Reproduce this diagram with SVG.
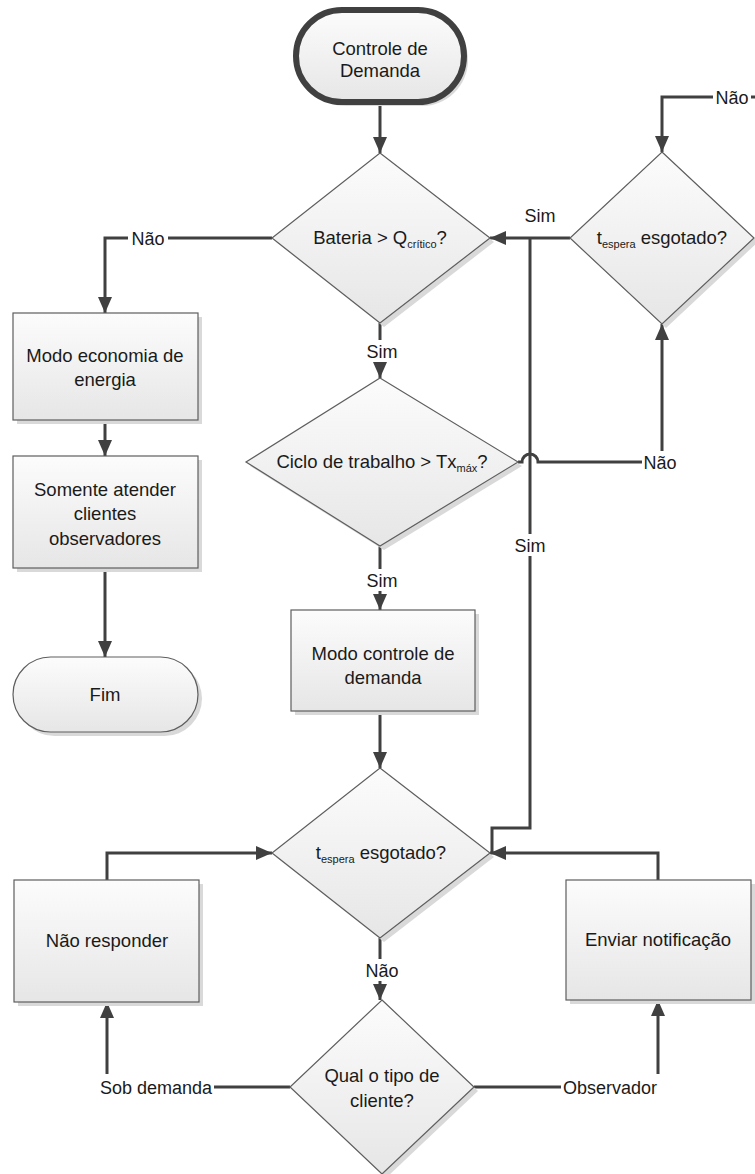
<svg xmlns="http://www.w3.org/2000/svg" width="755" height="1174" viewBox="0 0 755 1174">
<style>
.sh{fill:url(#g);stroke:#5e5e5e;stroke-width:1.2}
.sd{fill:#d9d9d9}
.c{fill:none;stroke:#404040;stroke-width:3}
.t{font-family:"Liberation Sans",Arial,sans-serif;font-size:18.5px;fill:#1a1a1a;text-anchor:middle}
.l{font-family:"Liberation Sans",Arial,sans-serif;font-size:18px;fill:#1a1a1a;text-anchor:middle}
.s{font-size:11px}
.bg{fill:#ffffff}
</style>
<defs>
<linearGradient id="g" x1="0" y1="0" x2="0" y2="1">
<stop offset="0" stop-color="#fcfcfc"/>
<stop offset="1" stop-color="#e6e6e6"/>
</linearGradient>
<marker id="a" markerUnits="userSpaceOnUse" markerWidth="16" markerHeight="14" viewBox="0 0 16 14" refX="16" refY="7" orient="auto">
<path d="M0,0 L16,7 L0,14 z" fill="#404040"/>
</marker>
</defs>

<g id="connectors">
<path class="c" d="M380,104 V153" marker-end="url(#a)"/>
<path class="c" d="M380,323 V378" marker-end="url(#a)"/>
<path class="c" d="M380,546 V610" marker-end="url(#a)"/>
<path class="c" d="M380,711 V768" marker-end="url(#a)"/>
<path class="c" d="M380,938 V1000" marker-end="url(#a)"/>
<path class="c" d="M272,238 H105 V313" marker-end="url(#a)"/>
<path class="c" d="M105,420 V456" marker-end="url(#a)"/>
<path class="c" d="M105,568 V657" marker-end="url(#a)"/>
<path class="c" d="M290,1087 H107 V1002" marker-end="url(#a)"/>
<path class="c" d="M474,1087 H658 V1000" marker-end="url(#a)"/>
<path class="c" d="M107,880 V853 H272" marker-end="url(#a)"/>
<path class="c" d="M658,880 V853 H490" marker-end="url(#a)"/>
<path class="c" d="M492,853 V828 H530 V238"/>
<path class="c" d="M570,238 H490" marker-end="url(#a)"/>
<path class="c" d="M518,462 H522 A8,8 0 0 1 538,462 H662 V324" marker-end="url(#a)"/>
<path class="c" d="M755,97 H662 V152" marker-end="url(#a)"/>
<rect class="bg" x="366" y="340" width="32" height="22"/>
<text class="l" x="382" y="358">Sim</text>
<rect class="bg" x="366" y="569" width="32" height="22"/>
<text class="l" x="382" y="587">Sim</text>
<rect class="bg" x="364" y="959" width="36" height="22"/>
<text class="l" x="382" y="977">Não</text>
<text class="l" x="540" y="222">Sim</text>
<rect class="bg" x="514" y="534" width="32" height="22"/>
<text class="l" x="530" y="552">Sim</text>
<rect class="bg" x="642" y="451" width="38" height="22"/>
<text class="l" x="660" y="469">Não</text>
<rect class="bg" x="128" y="227" width="40" height="22"/>
<text class="l" x="148" y="245">Não</text>
<rect class="bg" x="713" y="86" width="38" height="22"/>
<text class="l" x="732" y="104">Não</text>
<rect class="bg" x="98" y="1074" width="116" height="24"/>
<text class="l" x="156" y="1094">Sob demanda</text>
<rect class="bg" x="561" y="1074" width="99" height="24"/>
<text class="l" x="610" y="1094">Observador</text>
</g>

<g id="start">
<rect class="sd" x="300" y="14" width="168" height="92" rx="46"/>
<rect x="296" y="10" width="168" height="92" rx="46" fill="url(#g)" stroke="#404040" stroke-width="6"/>
<text class="t" x="380" y="55">Controle de</text>
<text class="t" x="380" y="77">Demanda</text>
</g>

<g id="d1">
<path class="sd" d="M384,157 L494,242 L384,327 L276,242 z"/>
<path class="sh" d="M380,153 L490,238 L380,323 L272,238 z"/>
<text class="t" x="380" y="244">Bateria &gt; Q<tspan class="s" dy="4">crítico</tspan><tspan dy="-4">?</tspan></text>
</g>

<g id="d2">
<path class="sd" d="M384,382 L522,466 L384,550 L250,466 z"/>
<path class="sh" d="M380,378 L518,462 L380,546 L246,462 z"/>
<text class="t" x="382" y="468">Ciclo de trabalho &gt; Tx<tspan class="s" dy="4">máx</tspan><tspan dy="-4">?</tspan></text>
</g>

<g id="box-controle">
<rect class="sd" x="295" y="614" width="184" height="101"/>
<rect class="sh" x="291" y="610" width="184" height="101"/>
<text class="t" x="383" y="660">Modo controle de</text>
<text class="t" x="383" y="684">demanda</text>
</g>

<g id="d3">
<path class="sd" d="M384,772 L494,857 L384,942 L276,857 z"/>
<path class="sh" d="M380,768 L490,853 L380,938 L272,853 z"/>
<text class="t" x="381" y="859">t<tspan class="s" dy="4">espera</tspan><tspan dy="-4"> esgotado?</tspan></text>
</g>

<g id="d4">
<path class="sd" d="M386,1004 L478,1091 L386,1178 L294,1091 z"/>
<path class="sh" d="M382,1000 L474,1087 L382,1174 L290,1087 z"/>
<text class="t" x="382" y="1082">Qual o tipo de</text>
<text class="t" x="382" y="1107">cliente?</text>
</g>

<g id="d5">
<path class="sd" d="M666,156 L758,242 L666,328 L574,242 z"/>
<path class="sh" d="M662,152 L754,238 L662,324 L570,238 z"/>
<text class="t" x="662" y="244">t<tspan class="s" dy="4">espera</tspan><tspan dy="-4"> esgotado?</tspan></text>
</g>

<g id="box-economia">
<rect class="sd" x="17" y="317" width="185" height="107"/>
<rect class="sh" x="13" y="313" width="185" height="107"/>
<text class="t" x="105" y="362">Modo economia de</text>
<text class="t" x="105" y="386">energia</text>
</g>

<g id="box-somente">
<rect class="sd" x="17" y="460" width="185" height="112"/>
<rect class="sh" x="13" y="456" width="185" height="112"/>
<text class="t" x="105" y="496">Somente atender</text>
<text class="t" x="105" y="520">clientes</text>
<text class="t" x="105" y="545">observadores</text>
</g>

<g id="fim">
<rect class="sd" x="17" y="661" width="185" height="75" rx="37.5"/>
<rect class="sh" x="13" y="657" width="185" height="75" rx="37.5"/>
<text class="t" x="105" y="701">Fim</text>
</g>

<g id="box-nao-responder">
<rect class="sd" x="18" y="884" width="185" height="122"/>
<rect class="sh" x="14" y="880" width="185" height="122"/>
<text class="t" x="107" y="947">Não responder</text>
</g>

<g id="box-enviar">
<rect class="sd" x="570" y="884" width="185" height="120"/>
<rect class="sh" x="566" y="880" width="185" height="120"/>
<text class="t" x="658" y="946">Enviar notificação</text>
</g>
</svg>
